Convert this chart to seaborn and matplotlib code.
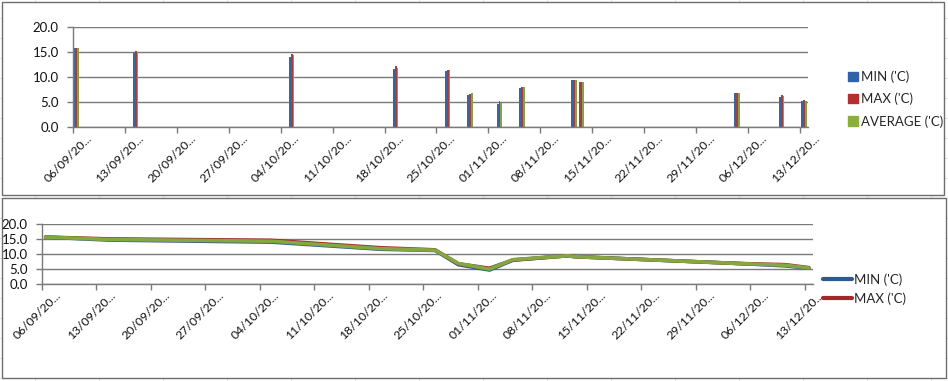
import pandas as pd
import seaborn as sns
import matplotlib.pyplot as plt
from matplotlib.patches import Patch, Rectangle
from matplotlib.lines import Line2D
import matplotlib.transforms as mtransforms

# readings (day/month), values in 'C
dates = ["2020-09-06", "2020-09-14", "2020-10-05", "2020-10-19", "2020-10-26",
         "2020-10-29", "2020-11-02", "2020-11-05", "2020-11-12", "2020-11-13",
         "2020-12-04", "2020-12-10", "2020-12-13"]
min_c = [15.7, 14.7, 14.0, 11.6, 11.2, 6.4, 4.6, 7.9, 9.4, 9.1, 6.8, 6.0, 5.2]
max_c = [15.7, 15.1, 14.6, 12.1, 11.4, 6.7, 5.2, 8.0, 9.4, 9.1, 6.8, 6.4, 5.4]
avg_c = [15.7, 14.9, 14.3, 11.8, 11.3, 6.8, 4.9, 8.1, 9.4, 9.1, 6.8, 6.2, 5.3]
series = ["MIN ('C)", "MAX ('C)", "AVERAGE ('C)"]
tick_labels = ["06/09/20...", "13/09/20...", "20/09/20...", "27/09/20...",
               "04/10/20...", "11/10/20...", "18/10/20...", "25/10/20...",
               "01/11/20...", "08/11/20...", "15/11/20...", "22/11/20...",
               "29/11/20...", "06/12/20...", "13/12/20..."]

bar_colors = ["#2F62A8", "#B3302E", "#8AAF3C"]
line_colors = ["#2C5A8C", "#A02A2A", "#84A740"]

start = pd.Timestamp(dates[0])
day = [(pd.Timestamp(d) - start).days + 0.5 for d in dates]
df = pd.DataFrame({"day": day * 3,
                   "value": min_c + max_c + avg_c,
                   "series": [s for s in series for _ in dates]})

sns.set_style("white")
plt.rcParams["font.family"] = ["Lato", "DejaVu Sans"]

W, H = 948, 381
fig = plt.figure(figsize=(W / 100, H / 100), dpi=100)


def box(x0, y0, x1, y1):
    return [x0 / W, 1 - y1 / H, (x1 - x0) / W, (y1 - y0) / H]


# spreadsheet cells behind the charts
bg = fig.add_axes([0, 0, 1, 1])
bg.set_xlim(0, W)
bg.set_ylim(H, 0)
bg.axis("off")
for x in range(35, W, 64):
    bg.axvline(x, color="#E3E3E3", lw=0.8, zorder=1)
for y in range(18, H, 20):
    bg.axhline(y, color="#E3E3E3", lw=0.8, zorder=1)
bg.add_patch(Rectangle((2, 2), 942, 193, facecolor="white", edgecolor="#6E6E6E",
                       lw=1, zorder=3))
bg.add_patch(Rectangle((2, 198), 944, 180, facecolor="white", edgecolor="#6E6E6E",
                       lw=1, zorder=3))

grid_c = "#7A7A7A"
weeks = [7 * i for i in range(len(tick_labels))]


def style_axis(ax, xmax):
    ax.set_xlim(0, xmax)
    ax.set_ylim(0, 20)
    ax.set_xlabel("")
    ax.set_ylabel("")
    ax.grid(axis="y", color=grid_c, lw=1)
    ax.set_axisbelow(True)
    for s in ["top", "right"]:
        ax.spines[s].set_visible(False)
    for s in ["left", "bottom"]:
        ax.spines[s].set_color(grid_c)
        ax.spines[s].set_linewidth(1)
    ax.tick_params(axis="both", which="major", length=4, width=1, color=grid_c,
                   labelcolor="#111111", direction="out", bottom=True, left=True)
    ax.tick_params(axis="y", pad=6, labelsize=9.5)
    ax.tick_params(axis="x", pad=2)
    ax.set_yticks([0, 5, 10, 15, 20])
    ax.set_yticklabels(["0.0", "5.0", "10.0", "15.0", "20.0"])
    ax.set_xticks(weeks)
    ax.set_xticklabels(tick_labels, rotation=45, ha="right", va="center",
                       rotation_mode="anchor", fontsize=8.8)
    off = mtransforms.ScaledTranslation(17 / 100, -1 / 100, fig.dpi_scale_trans)
    for lab in ax.get_xticklabels():
        lab.set_transform(lab.get_transform() + off)
    ax.patch.set_alpha(0)


# top: columns
ax1 = fig.add_axes(box(72.7, 26.7, 807.7, 127.3))
sns.barplot(data=df, x="day", y="value", hue="series", hue_order=series,
            palette=bar_colors, native_scale=True, width=0.72, errorbar=None,
            linewidth=0, legend=False, ax=ax1)
style_axis(ax1, 99)

fig.legend(handles=[Patch(color=c, label=s) for c, s in zip(bar_colors, series)],
           loc="center left", bbox_to_anchor=(843 / W, 1 - 99 / H), frameon=False,
           handlelength=0.7, handleheight=0.7, handletextpad=0.25,
           labelspacing=0.75, fontsize=9.5, borderaxespad=0)

# bottom: lines
ax2 = fig.add_axes(box(41.7, 224.3, 812.8, 283.7))
sns.lineplot(data=df, x="day", y="value", hue="series", hue_order=series,
             palette=line_colors, linewidth=2.6, legend=False, ax=ax2)
style_axis(ax2, 99)

fig.legend(handles=[Line2D([], [], color=c, lw=3, label=s)
                    for c, s in zip(line_colors[:2], series[:2])],
           loc="center left", bbox_to_anchor=(818 / W, 1 - 289 / H), frameon=False,
           handlelength=2.2, handletextpad=0.15, labelspacing=0.45,
           fontsize=9.5, borderaxespad=0)

fig.savefig("out.png", dpi=100)
